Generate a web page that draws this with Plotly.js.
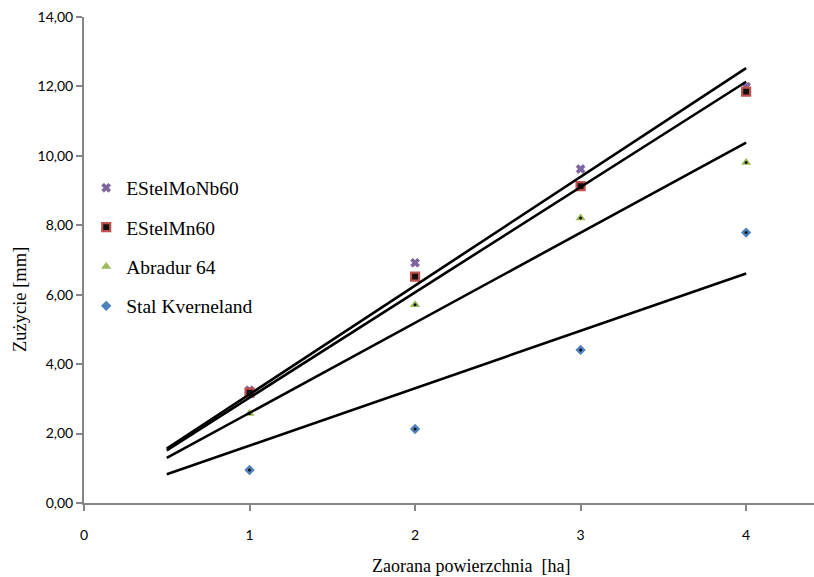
<!DOCTYPE html>
<html>
<head>
<meta charset="utf-8">
<script src="https://cdn.plot.ly/plotly-3.0.1.min.js"></script>
<style>html,body{margin:0;padding:0;background:#fff;}#chart{width:814px;height:577px;}</style>
</head>
<body>
<div id="chart"></div>
<script>
// Data
const area = [1, 2, 3, 4];                 // Zaorana powierzchnia [ha]
const seriesNames = ["EStelMoNb60", "EStelMn60", "Abradur 64", "Stal Kverneland"];
const estelMoNb60 = [3.25, 6.92, 9.62, 12.00];
const estelMn60 = [3.18, 6.52, 9.13, 11.85];
const abradur64 = [2.58, 5.71, 8.21, 9.81];
const stalKverneland = [0.95, 2.13, 4.41, 7.79];
const trendX = [0.5, 4];                    // trendline span (forecast back to 0.5)
const yTicks = [0, 2, 4, 6, 8, 10, 12, 14];
const xTicks = [0, 1, 2, 3, 4];
const xTitle = "Zaorana powierzchnia  [ha]";
const yTitle = "Zużycie [mm]";

// Linear trendline with intercept fixed at 0 (least squares through origin)
function trendThroughOrigin(xs, ys) {
  let sxy = 0, sxx = 0;
  for (let i = 0; i < xs.length; i++) { sxy += xs[i] * ys[i]; sxx += xs[i] * xs[i]; }
  const b = sxy / sxx;
  return trendX.map(x => b * x);
}

const allSeries = [estelMoNb60, estelMn60, abradur64, stalKverneland];
const markerStyles = [
  {symbol: "x", color: "#8064A2", size: 8, line: {color: "#5f4a80", width: 0.5}},
  {symbol: "square", color: "#111111", size: 8, line: {color: "#C0504D", width: 2.2}},
  {symbol: "triangle-up", color: "#9BBB59", size: 9, line: {color: "#9BBB59", width: 0}},
  {symbol: "diamond", color: "#4F81BD", size: 8, line: {color: "#4F81BD", width: 0}}
];

const traces = [];
allSeries.forEach((ys, i) => {
  traces.push({
    type: "scatter", mode: "markers", x: area, y: ys, name: seriesNames[i],
    legendgroup: "g" + i,
    marker: markerStyles[i], cliponaxis: false
  });
});
// small dark centre dots like in the original markers
[abradur64, stalKverneland].forEach((ys) => {
  traces.push({
    type: "scatter", mode: "markers", x: area, y: ys, showlegend: false, hoverinfo: "skip",
    marker: {symbol: "circle", size: 3, color: "#111"}
  });
});
allSeries.forEach((ys, i) => {
  traces.push({
    type: "scatter", mode: "lines", x: trendX, y: trendThroughOrigin(area, ys),
    showlegend: false, hoverinfo: "skip",
    line: {color: "#000", width: 2.6}
  });
});

const serif = "Liberation Serif, Times New Roman, serif";
const layout = {
  width: 814, height: 577,
  margin: {l: 84, r: 0, t: 17, b: 74},
  paper_bgcolor: "#fff", plot_bgcolor: "#fff",
  separators: ", ",
  showlegend: true,
  legend: {
    x: 0.003, y: 0.688, xanchor: "left", yanchor: "top",
    font: {family: serif, size: 19.5, color: "#000"},
    bgcolor: "rgba(0,0,0,0)", tracegroupgap: 11, itemwidth: 30
  },
  xaxis: {
    range: [0, 4.41], tickvals: xTicks, ticktext: xTicks.map(String),
    showgrid: false, zeroline: false, showline: true, linecolor: "#868686", linewidth: 2,
    ticks: "outside", ticklen: 6, tickwidth: 2, tickcolor: "#868686",
    ticklabelstandoff: 12,
    tickfont: {family: "Lato, sans-serif", size: 14, color: "#000"}
  },
  yaxis: {
    range: [0, 14], tickvals: yTicks, tickformat: ".2f",
    showgrid: false, zeroline: false, showline: true, linecolor: "#868686", linewidth: 2,
    ticks: "outside", ticklen: 6, tickwidth: 2, tickcolor: "#868686",
    tickfont: {family: "Lato, sans-serif", size: 14, color: "#000"}
  },
  annotations: [
    {text: xTitle, xref: "paper", yref: "paper", x: (471 - 84) / 730, y: -(566 - 503) / 486,
     xanchor: "center", yanchor: "middle", showarrow: false,
     font: {family: serif, size: 18, color: "#000"}},
    {text: yTitle, xref: "paper", yref: "paper", x: -(84 - 20) / 730, y: (503 - 300) / 486,
     xanchor: "center", yanchor: "middle", showarrow: false, textangle: -90,
     font: {family: serif, size: 18.5, color: "#000"}}
  ]
};

Plotly.newPlot("chart", traces, layout, {displayModeBar: false, staticPlot: true});
</script>
</body>
</html>
